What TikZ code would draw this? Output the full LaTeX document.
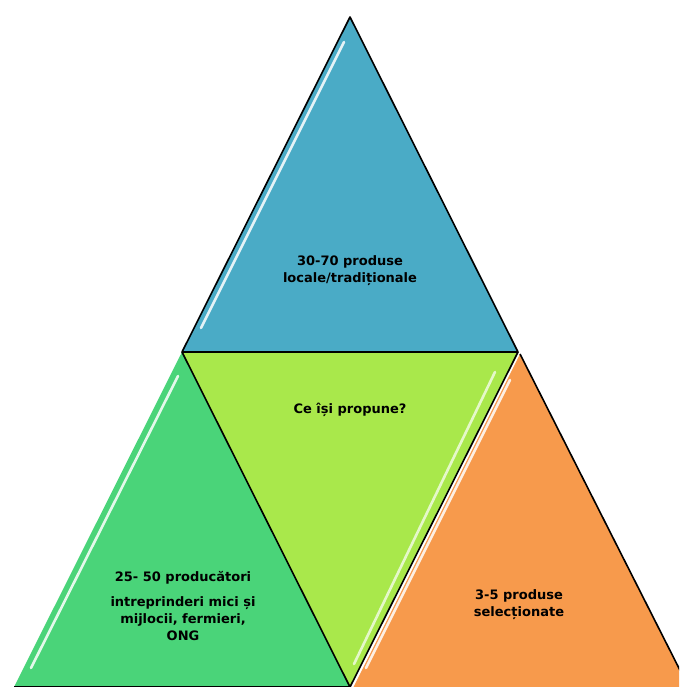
\documentclass[tikz,border=0pt]{standalone}
\usepackage{fontspec}
\setmainfont{DejaVu Sans}
\definecolor{cblue}{HTML}{4AABC6}
\definecolor{cgreen}{HTML}{4AD479}
\definecolor{clime}{HTML}{A9E84B}
\definecolor{corange}{HTML}{F79A4C}
\begin{document}
\begin{tikzpicture}[x=1pt,y=-1pt,
  tri/.style={draw=black,line width=1.6pt,line join=round},
  gloss/.style={white,line width=2.6pt,opacity=0.85,line cap=round},
  lbl/.style={font=\bfseries\fontsize{13}{17}\selectfont,align=center,text=black,inner sep=0pt}]
\useasboundingbox (0,0) rectangle (679,687);
\begin{scope}
\clip (0,0) rectangle (679,687);
% fills
\fill[cblue]   (350,17) -- (518,352) -- (182,352) -- cycle;
\fill[cgreen]  (182,352) -- (350,687) -- (14,687) -- cycle;
\fill[clime]   (182,352) -- (518,352) -- (350,687) -- cycle;
\fill[corange] (520,354) -- (690,690) -- (352,690) -- cycle;
% gloss highlights
\draw[gloss] (344,42) -- (201,328);
\draw[gloss] (178,376) -- (31,668);
\draw[gloss,opacity=0.7] (495,372) -- (354,664);
\draw[gloss] (510,380) -- (366,668);
% outlines
\draw[tri] (350,17) -- (518,352) -- (182,352) -- cycle;
\draw[tri] (182,352) -- (350,687) -- (14,687);
\draw[tri] (518,352) -- (350,687);
\draw[tri] (520,354) -- (690,690);
\end{scope}
% labels
\node[lbl] (top) at (350,271) {30-70 produse\\locale/tradi\char"021Bionale};
\node[lbl] (mid) at (350,410) {Ce \^{\i}\char"0219i propune?};
\node[lbl] (lefta) at (183,578) {25- 50 produc\u{a}tori};
\node[lbl] (leftb) at (183,619) {intreprinderi mici \char"0219i\\mijlocii, fermieri,\\ONG};
\node[lbl] (right) at (519,605) {3-5 produse\\selec\char"021Bionate};
\end{tikzpicture}
\end{document}
